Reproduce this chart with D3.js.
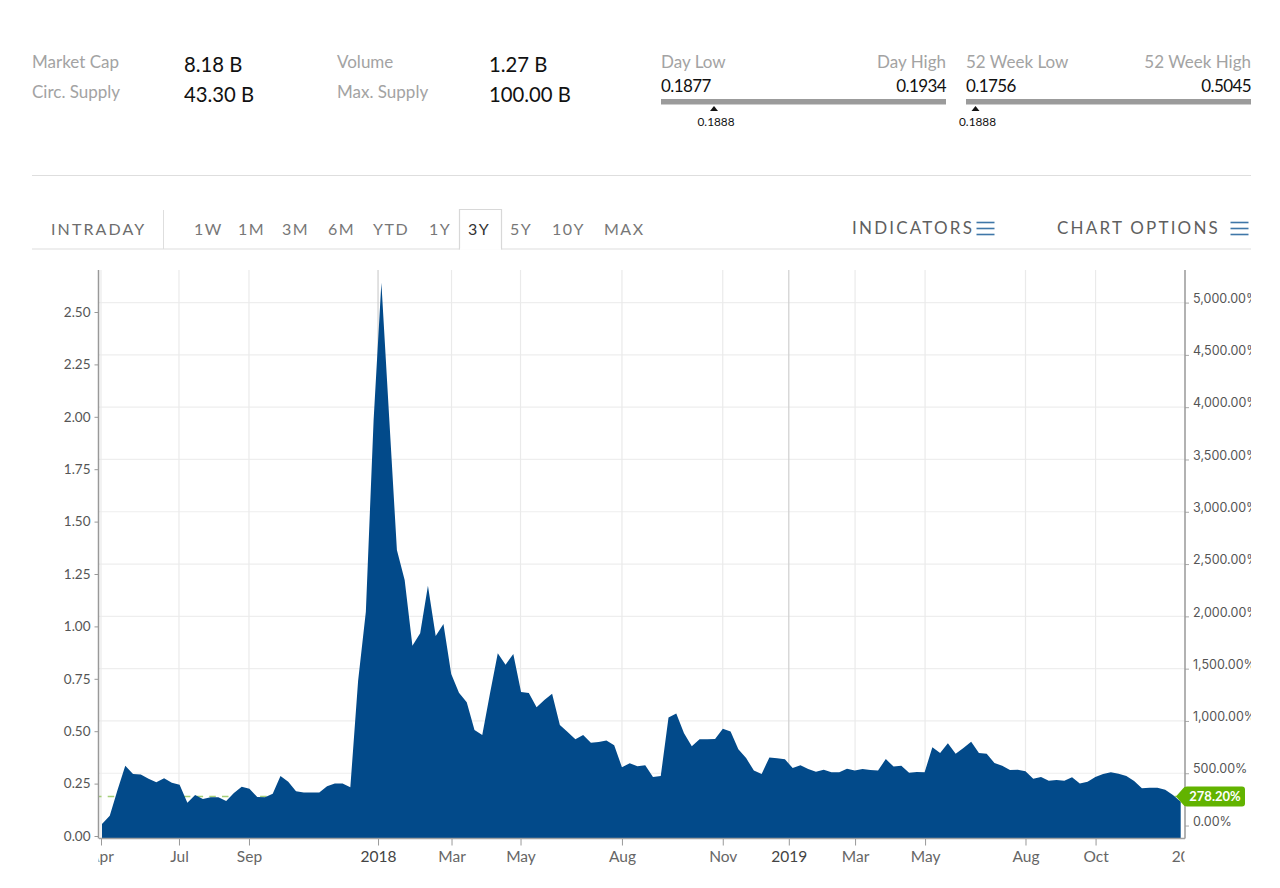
<!DOCTYPE html>
<html>
<head>
<meta charset="utf-8">
<script src="https://cdn.jsdelivr.net/npm/d3@7"></script>
<style>
  html, body { margin: 0; padding: 0; background: #fff; }
  svg { display: block; }
  text { font-family: Lato, "Open Sans", sans-serif; }
</style>
</head>
<body>
<svg id="chart" width="1280" height="888"></svg>
<script>
// values, one point per step on the x axis
var prices = [
  0.057, 0.097, 0.219, 0.335, 0.296, 0.294, 0.273, 0.256, 0.275, 0.254,
  0.245, 0.159, 0.196, 0.177, 0.185, 0.185, 0.167, 0.205, 0.235, 0.226,
  0.186, 0.185, 0.202, 0.286, 0.259, 0.213, 0.207, 0.207, 0.208, 0.237,
  0.250, 0.251, 0.232, 0.740, 1.070, 1.985, 2.640, 2.000, 1.364, 1.221,
  0.908, 0.967, 1.194, 0.954, 1.011, 0.773, 0.684, 0.638, 0.506, 0.482,
  0.681, 0.872, 0.817, 0.868, 0.687, 0.682, 0.614, 0.649, 0.679, 0.530,
  0.496, 0.461, 0.482, 0.445, 0.448, 0.456, 0.433, 0.328, 0.347, 0.333,
  0.337, 0.281, 0.286, 0.565, 0.585, 0.490, 0.428, 0.461, 0.461, 0.463,
  0.512, 0.499, 0.414, 0.372, 0.312, 0.296, 0.375, 0.371, 0.366, 0.324,
  0.337, 0.320, 0.307, 0.316, 0.304, 0.304, 0.321, 0.312, 0.320, 0.315,
  0.313, 0.367, 0.331, 0.335, 0.302, 0.305, 0.304, 0.423, 0.396, 0.442,
  0.393, 0.420, 0.450, 0.396, 0.393, 0.348, 0.335, 0.315, 0.316, 0.309,
  0.273, 0.281, 0.264, 0.267, 0.264, 0.280, 0.250, 0.259, 0.281, 0.296,
  0.304, 0.297, 0.286, 0.262, 0.228, 0.230, 0.230, 0.221, 0.196, 0.164
];
var xTickLabels = ["Apr", "Jul", "Sep", "2018", "Mar", "May", "Aug", "Nov", "2019", "Mar", "May", "Aug", "Oct", "2020"];
var xTickIndex = [-0.13, 9.92, 18.94, 35.57, 45.04, 53.93, 67, 79.99, 88.5, 97.04, 106.06, 119, 128.03, 140.1];
var yearTicks = ["2018", "2019"];
var priceTicks = [0, 0.25, 0.5, 0.75, 1, 1.25, 1.5, 1.75, 2, 2.25, 2.5];
var percentTicks = [0, 500, 1000, 1500, 2000, 2500, 3000, 3500, 4000, 4500, 5000];
var basePrice = 0.0499;
var lastPrice = 0.1888;
var lastPercent = "278.20%";

var statsLeft = [["Market Cap", "8.18 B"], ["Circ. Supply", "43.30 B"]];
var statsRight = [["Volume", "1.27 B"], ["Max. Supply", "100.00 B"]];
var rangeTabs = ["1W", "1M", "3M", "6M", "YTD", "1Y", "3Y", "5Y", "10Y", "MAX"];
var rangeTabX = [194, 238, 282, 328, 373, 429, 468, 510, 552, 604];

var svg = d3.select("#chart");

var plotLeft = 99, plotRight = 1185, plotTop = 270, plotBottom = 838.5;

var x = d3.scaleLinear().domain([0, prices.length - 1]).range([102, 1180.7]);
var y = d3.scaleLinear().domain([0, 2.5]).range([836, 312]);
// percent change axis is the same scale re-expressed against the base price
var yPct = d3.scaleLinear()
  .domain([0, 5000])
  .range([y(basePrice), y(basePrice * 51)]);

// ---- header stats ----
function statBlock(rows, labelX, valueX) {
  rows.forEach(function(r, i) {
    svg.append("text").attr("x", labelX).attr("y", 68 + i * 30)
      .attr("font-size", 17).attr("fill", "#a3a3a3").text(r[0]);
    svg.append("text").attr("x", valueX).attr("y", 72 + i * 30)
      .attr("font-size", 20.3).attr("fill", "#111").text(r[1]);
  });
}
statBlock(statsLeft, 32, 184);
statBlock(statsRight, 337, 489);

function rangeBlock(x0, x1, lowName, highName, low, high, markerX) {
  svg.append("text").attr("x", x0).attr("y", 68).attr("font-size", 17).attr("fill", "#a3a3a3").text(lowName);
  svg.append("text").attr("x", x1).attr("y", 68).attr("font-size", 17).attr("fill", "#a3a3a3")
    .attr("text-anchor", "end").text(highName);
  svg.append("text").attr("x", x0).attr("y", 92).attr("font-size", 17).attr("letter-spacing", -0.6)
    .attr("fill", "#111").text(low);
  svg.append("text").attr("x", x1).attr("y", 92).attr("font-size", 17).attr("letter-spacing", -0.6)
    .attr("fill", "#111").attr("text-anchor", "end").text(high);
  svg.append("rect").attr("x", x0).attr("y", 99).attr("width", x1 - x0).attr("height", 5.5).attr("fill", "#9b9b9b");
  svg.append("path").attr("fill", "#111")
    .attr("d", "M" + (markerX - 4) + ",111L" + markerX + ",106L" + (markerX + 4) + ",111Z");
  svg.append("text").attr("x", markerX + 2).attr("y", 126).attr("font-size", 11.8)
    .attr("text-anchor", "middle").attr("fill", "#111").text(lastPrice.toFixed(4));
}
rangeBlock(661, 946, "Day Low", "Day High", "0.1877", "0.1934", 714);
rangeBlock(966, 1251, "52 Week Low", "52 Week High", "0.1756", "0.5045", 975.5);

svg.append("line").attr("x1", 32).attr("x2", 1251).attr("y1", 175.5).attr("y2", 175.5)
  .attr("stroke", "#dedede").attr("stroke-width", 1.2);

// ---- tabs row ----
svg.append("line").attr("x1", 32).attr("x2", 1251).attr("y1", 249).attr("y2", 249)
  .attr("stroke", "#dedede").attr("stroke-width", 1.2);
svg.append("line").attr("x1", 163.5).attr("x2", 163.5).attr("y1", 210).attr("y2", 249)
  .attr("stroke", "#dedede");
svg.append("path").attr("fill", "#fff").attr("stroke", "#d8d8d8").attr("stroke-width", 1.2)
  .attr("d", "M459.5,249.5V209.5H501.5V249.5");
svg.append("line").attr("x1", 460).attr("x2", 501).attr("y1", 249).attr("y2", 249)
  .attr("stroke", "#fff").attr("stroke-width", 1.6);

svg.append("text").attr("x", 51).attr("y", 235)
  .attr("font-size", 16).attr("letter-spacing", 2.1).attr("fill", "#6d6d6d").text("INTRADAY");
svg.selectAll(".range-tab")
  .data(rangeTabs)
  .enter()
  .append("text")
  .attr("class", "range-tab")
  .attr("x", function(d, i) { return rangeTabX[i]; })
  .attr("y", 235)
  .attr("font-size", 16)
  .attr("letter-spacing", 1.5)
  .attr("fill", function(d) { return d === "3Y" ? "#333" : "#777"; })
  .text(function(d) { return d; });

function menuItem(label, tx, iconX) {
  svg.append("text").attr("x", tx).attr("y", 234)
    .attr("font-size", 17).attr("letter-spacing", 2.2).attr("fill", "#5f5f5f").text(label);
  [222.5, 228.5, 234.5].forEach(function(ly) {
    svg.append("line").attr("x1", iconX).attr("x2", iconX + 18).attr("y1", ly).attr("y2", ly)
      .attr("stroke", "#3f77a8").attr("stroke-width", 1.6);
  });
}
menuItem("INDICATORS", 852, 976.5);
menuItem("CHART OPTIONS", 1057, 1230.5);

// ---- grid ----
var defs = svg.append("defs");
// clip rects are in the axis group's own coordinates
defs.append("clipPath").attr("id", "x-clip").append("rect")
  .attr("x", plotLeft - 0.5).attr("y", 0).attr("width", plotRight - plotLeft).attr("height", 40);
defs.append("clipPath").attr("id", "right-clip").append("rect")
  .attr("x", 0).attr("y", 260).attr("width", 66).attr("height", 600);

svg.selectAll(".grid-h")
  .data(percentTicks.slice(1))
  .enter()
  .append("line")
  .attr("class", "grid-h")
  .attr("x1", plotLeft).attr("x2", plotRight)
  .attr("y1", function(d) { return yPct(d); })
  .attr("y2", function(d) { return yPct(d); })
  .attr("stroke", "#eeeeee")
  .attr("stroke-width", 1.2);

// the last label's tick falls past the right edge of the plot
svg.selectAll(".grid-v")
  .data(xTickIndex.filter(function(d) { return d <= prices.length - 1; }))
  .enter()
  .append("line")
  .attr("class", "grid-v")
  .attr("x1", function(d) { return x(d); })
  .attr("x2", function(d) { return x(d); })
  .attr("y1", plotTop)
  .attr("y2", plotBottom)
  .attr("stroke", function(d, i) { return yearTicks.indexOf(xTickLabels[i]) >= 0 ? "#cfcfcf" : "#eaeaea"; })
  .attr("stroke-width", 1.2);

// dashed last price line sits behind the area
svg.append("line")
  .attr("x1", plotLeft).attr("x2", 1182)
  .attr("y1", y(lastPrice)).attr("y2", y(lastPrice))
  .attr("stroke", "#a5cf78")
  .attr("stroke-width", 1.6)
  .attr("stroke-dasharray", "6.5,6.2")
  .attr("stroke-dashoffset", 4);

// ---- area ----
var area = d3.area()
  .x(function(d, i) { return x(i); })
  .y0(plotBottom)
  .y1(function(d) { return y(d); });

svg.append("path")
  .datum(prices)
  .attr("fill", "#024a8a")
  .attr("d", area);

// ---- axes ----
var leftAxis = svg.append("g")
  .attr("transform", "translate(" + (plotLeft - 0.5) + ",0)")
  .call(d3.axisLeft(y).tickValues(priceTicks).tickFormat(d3.format(".2f")).tickSize(4).tickPadding(4));
var rightAxis = svg.append("g")
  .attr("transform", "translate(" + plotRight + ",0)")
  .attr("clip-path", "url(#right-clip)")
  .call(d3.axisRight(yPct).tickValues(percentTicks)
    .tickFormat(function(d) { return d3.format(",.2f")(d) + "%"; }).tickSize(4).tickPadding(4));
var bottomAxis = svg.append("g")
  .attr("transform", "translate(0," + plotBottom + ")")
  .attr("clip-path", "url(#x-clip)")
  .call(d3.axisBottom(x).tickValues(xTickIndex)
    .tickFormat(function(d, i) { return xTickLabels[i]; }).tickSize(7).tickPadding(5));

[leftAxis, rightAxis, bottomAxis].forEach(function(g) {
  g.select(".domain").remove();
  g.attr("font-family", null);
  g.selectAll(".tick line").attr("stroke", "#999");
  g.selectAll("text").attr("font-size", 13.5).attr("fill", "#555");
});
rightAxis.selectAll("text").style("font-family", "Inter, sans-serif").attr("font-size", 12.5).attr("dy", "-0.02em");
rightAxis.selectAll(".tick line").attr("stroke", "#aaa");
bottomAxis.selectAll("text")
  .attr("font-size", 15.5)
  .attr("fill", function(d, i) { return yearTicks.indexOf(xTickLabels[i]) >= 0 ? "#444" : "#666"; });

svg.append("line").attr("x1", plotLeft - 0.5).attr("x2", plotLeft - 0.5).attr("y1", plotTop).attr("y2", plotBottom)
  .attr("stroke", "#999").attr("stroke-width", 1.5);
svg.append("line").attr("x1", plotRight).attr("x2", plotRight).attr("y1", plotTop).attr("y2", plotBottom)
  .attr("stroke", "#999").attr("stroke-width", 1.5);
svg.append("line").attr("x1", plotLeft).attr("x2", plotRight).attr("y1", plotBottom).attr("y2", plotBottom)
  .attr("stroke", "#a0a0a0").attr("stroke-width", 1.5);

// ---- last value badge ----
var by = y(lastPrice);
svg.append("path")
  .attr("fill", "#62b300")
  .attr("d", "M1176," + by + "L1183," + (by - 8) + "Q1184," + (by - 10) + " 1187," + (by - 10) +
    "H1242Q1245," + (by - 10) + " 1245," + (by - 7) + "V" + (by + 7) + "Q1245," + (by + 10) + " 1242," + (by + 10) +
    "H1187Q1184," + (by + 10) + " 1183," + (by + 8) + "Z");
svg.append("text")
  .attr("x", 1215).attr("y", by + 4.5)
  .attr("text-anchor", "middle")
  .attr("font-size", 13)
  .attr("font-weight", 700)
  .attr("fill", "#fff")
  .text(lastPercent);
</script>
</body>
</html>
